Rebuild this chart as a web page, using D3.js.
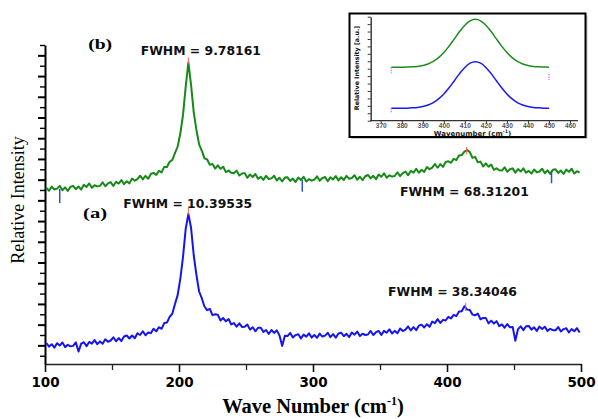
<!DOCTYPE html>
<html>
<head>
<meta charset="utf-8">
<script src="https://cdn.jsdelivr.net/npm/d3@7"></script>
<style>
  body { margin: 0; background: #fff; }
  svg { display: block; }
</style>
</head>
<body>
<svg id="chart" width="598" height="419"></svg>
<script>
// sampling grid of both spectra (cm-1)
const waveNumbers = d3.range(101, 500, 2);

// spectrum (a), blue
const intensityA = [
  1.23, 0.88, 1.11, 0.78, 1.21, 0.98, 1.28, 0.83, 1.05, 0.91,
  0.95, 1.29, 0.40, 1.17, 1.30, 0.93, 1.33, 1.16, 1.51, 1.12,
  1.38, 1.15, 1.59, 1.35, 1.47, 1.78, 1.39, 1.71, 1.41, 1.85,
  1.95, 1.66, 1.95, 1.68, 2.17, 2.00, 2.36, 1.97, 2.25, 2.18,
  2.60, 2.35, 2.75, 2.60, 3.15, 3.20, 3.75, 4.05, 5.00, 5.85,
  7.45, 9.55, 12.25, 13.70, 12.35, 9.70, 7.80, 6.20, 5.55, 4.75,
  4.40, 4.52, 3.92, 4.00, 3.95, 3.40, 3.64, 3.32, 3.54, 3.02,
  3.15, 2.80, 3.13, 2.78, 2.80, 3.01, 2.52, 2.75, 2.36, 2.70,
  2.70, 2.30, 2.48, 2.10, 2.48, 2.20, 2.45, 1.95, 0.95, 1.93,
  1.90, 2.20, 1.76, 1.99, 2.07, 1.67, 2.04, 1.84, 2.16, 1.75,
  2.00, 1.73, 2.13, 1.85, 1.94, 2.21, 1.79, 2.08, 1.74, 2.15,
  2.22, 1.88, 2.12, 1.80, 2.24, 2.03, 2.33, 1.90, 2.13, 2.00,
  2.05, 2.39, 2.00, 2.27, 2.39, 2.01, 2.40, 2.22, 2.54, 2.14,
  2.40, 2.17, 2.62, 2.38, 2.51, 2.82, 2.44, 2.76, 2.47, 2.90,
  3.00, 2.73, 3.04, 2.79, 3.30, 3.15, 3.53, 3.16, 3.46, 3.40,
  3.75, 3.60, 3.95, 3.83, 4.27, 4.30, 4.78, 4.45, 4.42, 3.97,
  3.90, 4.07, 3.52, 3.65, 3.63, 3.12, 3.39, 3.10, 3.34, 2.85,
  3.02, 2.70, 3.06, 2.74, 2.78, 1.45, 2.57, 2.83, 2.47, 2.85,
  2.88, 2.52, 2.74, 2.40, 2.81, 2.57, 2.80, 2.40, 2.60, 2.46,
  2.46, 2.76, 2.34, 2.57, 2.65, 2.24, 2.58, 2.36, 2.66, 2.24
];

// spectrum (b), green
const intensityB = [
  16.20, 15.93, 16.33, 16.05, 16.13, 16.40, 15.97, 16.25, 15.91, 16.30,
  16.40, 16.08, 16.34, 16.04, 16.50, 16.30, 16.63, 16.21, 16.46, 16.35,
  16.40, 16.75, 16.36, 16.63, 16.76, 16.39, 16.79, 16.62, 16.96, 16.57,
  16.85, 16.64, 17.11, 16.90, 17.04, 17.38, 17.02, 17.36, 17.09, 17.55,
  17.65, 17.45, 17.85, 17.70, 18.23, 18.22, 18.72, 18.90, 19.55, 20.20,
  21.45, 23.25, 25.95, 28.30, 26.15, 23.50, 21.80, 20.40, 19.80, 19.05,
  18.95, 18.43, 18.52, 18.07, 18.38, 18.05, 18.25, 17.72, 17.87, 17.66,
  17.62, 17.87, 17.40, 17.59, 17.63, 17.18, 17.50, 17.26, 17.54, 17.08,
  17.27, 16.98, 17.36, 17.06, 17.12, 17.37, 16.92, 17.18, 16.82, 17.20,
  17.22, 16.87, 17.10, 16.77, 17.20, 16.97, 17.27, 16.82, 17.04, 16.90,
  17.00, 17.32, 16.90, 17.15, 17.25, 16.85, 17.22, 17.02, 17.34, 16.92,
  17.23, 16.96, 17.36, 17.08, 17.16, 17.43, 17.00, 17.28, 16.94, 17.33,
  17.45, 17.12, 17.37, 17.04, 17.50, 17.28, 17.61, 17.18, 17.42, 17.30,
  17.35, 17.71, 17.34, 17.63, 17.78, 17.42, 17.84, 17.68, 18.05, 17.67,
  17.95, 17.75, 18.22, 18.01, 18.16, 18.51, 18.15, 18.50, 18.23, 18.70,
  18.77, 18.63, 19.00, 18.90, 19.34, 19.37, 19.70, 19.85, 19.67, 19.10,
  19.20, 18.67, 18.74, 18.27, 18.58, 18.25, 18.46, 17.94, 18.10, 17.91,
  17.88, 18.19, 17.76, 18.00, 18.09, 17.68, 18.03, 17.78, 18.09, 17.67,
  17.85, 17.58, 17.98, 17.70, 17.78, 18.05, 17.62, 17.90, 17.56, 17.95,
  18.00, 17.65, 17.88, 17.55, 17.98, 17.75, 18.05, 17.60, 17.82, 17.68
];

// blue spikes drawn over spectrum (b)
const spikeWave = [111, 292, 478];
const spikeTop = [16.1, 17.0, 17.8];
const spikeLow = [14.74, 15.84, 16.65];

// red peak markers
const peakWave = [207, 414.6, 207, 413.9];
const peakTop = [28.8, 20.15, 14.26, 5.09];
const peakBottom = [28.2, 19.45, 13.59, 4.32];

// FWHM annotations (left start wave, baseline intensity)
const fwhmText = ["FWHM = 9.78161", "FWHM = 68.31201", "FWHM = 10.39535", "FWHM = 38.34046"];
const fwhmWave = [171.4, 364.9, 158.4, 356];
const fwhmLevel = [29.03, 15.42, 14.26, 5.77];

const panelText = ["(b)", "(a)"];
const panelWave = [132.2, 128.4];
const panelLevel = [29.6, 13.3];

const xTicks = [100, 200, 300, 400, 500];
const xMinorTicks = [150, 250, 350, 450];
const yTicks = d3.range(0, 31);

// inset: fitted gaussians
const insetWave = [375, 377.5, 380, 382.5, 385, 387.5, 390, 392.5, 395, 397.5, 400, 402.5, 405, 407.5, 410, 412.5,
  415, 417.5, 420, 422.5, 425, 427.5, 430, 432.5, 435, 437.5, 440, 442.5, 445, 447.5, 450];
const insetGreen = [7.19, 7.19, 7.20, 7.22, 7.25, 7.31, 7.43, 7.64, 7.98, 8.49, 9.18, 10.04, 11.01, 12.00, 12.86, 13.44,
  13.65, 13.44, 12.86, 12.00, 11.01, 10.04, 9.18, 8.49, 7.98, 7.64, 7.43, 7.31, 7.25, 7.22, 7.20];
const insetBlue = [1.67, 1.67, 1.68, 1.69, 1.73, 1.79, 1.91, 2.11, 2.44, 2.93, 3.60, 4.43, 5.38, 6.34, 7.17, 7.74,
  7.94, 7.74, 7.17, 6.34, 5.38, 4.43, 3.60, 2.93, 2.44, 2.11, 1.91, 1.79, 1.73, 1.69, 1.68];
const insetXTicks = [370, 380, 390, 400, 410, 420, 430, 440, 450, 460];
const insetYTicks = d3.range(0, 15);
const insetMarkWave = [375, 375, 450];
const insetMarkTop = [7.19, 1.67, 6.28];
const insetMarkLow = [6.4, 1.0, 5.48];

const svg = d3.select("#chart");

// main scales
const x = d3.scaleLinear().domain([100, 500]).range([45, 581]);
const y = d3.scaleLinear().domain([-0.8, 30]).range([364, 45]);

// y axis (no labels)
const yMajor = svg.append("g").attr("transform", "translate(45,0)")
  .call(d3.axisLeft(y).tickValues(yTicks.filter(d => d % 2 === 1)).tickSize(7).tickSizeOuter(0).tickFormat(""));
const yMinor = svg.append("g").attr("transform", "translate(45,0)")
  .call(d3.axisLeft(y).tickValues(yTicks.filter(d => d % 2 === 0)).tickSize(5).tickSizeOuter(0).tickFormat(""));
yMajor.select(".domain").attr("stroke", "#000").attr("stroke-width", 2);
yMinor.select(".domain").remove();
yMajor.selectAll(".tick line").attr("stroke", "#000").attr("stroke-width", 2);
yMinor.selectAll(".tick line").attr("stroke", "#000").attr("stroke-width", 1.4);

// x axis
const xAxis = svg.append("g").attr("transform", "translate(0,364)")
  .call(d3.axisBottom(x).tickValues(xTicks).tickSize(8).tickSizeOuter(0).tickPadding(5));
svg.append("g").attr("transform", "translate(0,364)")
  .call(d3.axisBottom(x).tickValues(xMinorTicks).tickSize(6).tickSizeOuter(0).tickFormat(""))
  .call(g => g.select(".domain").remove())
  .selectAll(".tick line").attr("stroke", "#222").attr("stroke-width", 1.3);
xAxis.select(".domain").attr("stroke", "#222").attr("stroke-width", 1.6);
xAxis.selectAll(".tick line").attr("stroke", "#111").attr("stroke-width", 1.6);
xAxis.selectAll(".tick text")
  .attr("font-family", "DejaVu Sans").attr("font-weight", "bold")
  .attr("font-size", 13.5).attr("fill", "#000");

// spectra
const line = d3.line().x((d, i) => x(waveNumbers[i])).y(d => y(d));

svg.append("path").datum(intensityB)
  .attr("fill", "none").attr("stroke", "#168a16").attr("stroke-width", 2)
  .attr("stroke-linejoin", "round").attr("d", line);
svg.append("path").datum(intensityA)
  .attr("fill", "none").attr("stroke", "#1515f0").attr("stroke-width", 2)
  .attr("stroke-linejoin", "round").attr("d", line);

svg.append("g").selectAll("line").data(spikeWave).join("line")
  .attr("x1", d => x(d)).attr("x2", d => x(d))
  .attr("y1", (d, i) => y(spikeTop[i])).attr("y2", (d, i) => y(spikeLow[i]))
  .attr("stroke", "#2a4ee8").attr("stroke-width", 1.5);

svg.append("g").selectAll("line").data(peakWave).join("line")
  .attr("x1", d => x(d)).attr("x2", d => x(d))
  .attr("y1", (d, i) => y(peakTop[i])).attr("y2", (d, i) => y(peakBottom[i]))
  .attr("stroke", "#ff5a5a").attr("stroke-width", 1.2).attr("opacity", 0.85);

// annotations
svg.append("g").selectAll("text").data(fwhmText).join("text")
  .attr("x", (d, i) => x(fwhmWave[i])).attr("y", (d, i) => y(fwhmLevel[i]))
  .attr("font-family", "DejaVu Sans").attr("font-weight", "bold").attr("font-size", 12.4)
  .attr("fill", "#111").text(d => d);

svg.append("g").selectAll("text").data(panelText).join("text")
  .attr("x", (d, i) => x(panelWave[i])).attr("y", (d, i) => y(panelLevel[i]))
  .attr("font-family", "Liberation Serif").attr("font-weight", "bold").attr("font-size", 15)
  .attr("textLength", 24).attr("lengthAdjust", "spacingAndGlyphs")
  .attr("fill", "#000").text(d => d);

// axis titles
svg.append("text")
  .attr("transform", "translate(24,200) rotate(-90)")
  .attr("text-anchor", "middle")
  .attr("font-family", "Liberation Serif").attr("font-size", 18).attr("fill", "#000")
  .text("Relative Intensity");

const xTitle = svg.append("text")
  .attr("x", 313).attr("y", 413).attr("text-anchor", "middle")
  .attr("font-family", "Liberation Serif").attr("font-weight", "bold").attr("font-size", 20.5)
  .attr("fill", "#000");
xTitle.append("tspan").text("Wave Number (cm");
xTitle.append("tspan").attr("font-size", 12).attr("dy", -8).text("-1");
xTitle.append("tspan").attr("dy", 8).text(")");

// inset
const inset = svg.append("g");
inset.append("rect").attr("x", 351.5).attr("y", 15.5).attr("width", 236).attr("height", 123.5)
  .attr("fill", "#c8c8c8");
inset.append("rect").attr("x", 349.5).attr("y", 13.5).attr("width", 236).attr("height", 123.5)
  .attr("fill", "#fff").attr("stroke", "#000").attr("stroke-width", 2);

const ix = d3.scaleLinear().domain([365, 460]).range([370.2, 570]);
const iy = d3.scaleLinear().domain([0, 14]).range([120.7, 16.7]);

const ixAxis = inset.append("g").attr("transform", "translate(0,120.7)")
  .call(d3.axisBottom(ix).tickValues(insetXTicks).tickSize(3).tickSizeOuter(0).tickPadding(0));
ixAxis.select(".domain").attr("stroke", "#333").attr("stroke-width", 1.2)
  .attr("d", "M370.2,0H578");
ixAxis.selectAll(".tick line").attr("stroke", "#333");
ixAxis.selectAll(".tick text")
  .attr("font-family", "Liberation Sans").attr("font-weight", "bold")
  .attr("font-size", 6.6).attr("fill", "#555");

const iyAxis = inset.append("g").attr("transform", "translate(370.7,0)")
  .call(d3.axisLeft(iy).tickValues(insetYTicks).tickSize(3).tickSizeOuter(0).tickFormat(""));
iyAxis.select(".domain").attr("stroke", "#222").attr("stroke-width", 1.3);
iyAxis.selectAll(".tick line").attr("stroke", "#333");

const insetLine = d3.line().x((d, i) => ix(insetWave[i])).y(d => iy(d)).curve(d3.curveMonotoneX);
inset.append("path").datum(insetGreen)
  .attr("fill", "none").attr("stroke", "#1e8c1e").attr("stroke-width", 1.5).attr("d", insetLine);
inset.append("path").datum(insetBlue)
  .attr("fill", "none").attr("stroke", "#1a1aee").attr("stroke-width", 1.5).attr("d", insetLine);

inset.append("g").selectAll("line").data(insetMarkWave).join("line")
  .attr("x1", d => ix(d)).attr("x2", d => ix(d))
  .attr("y1", (d, i) => iy(insetMarkTop[i])).attr("y2", (d, i) => iy(insetMarkLow[i]))
  .attr("stroke", "#f060f0").attr("stroke-width", 1.2).attr("stroke-dasharray", "1.5,1");

inset.append("text")
  .attr("transform", "translate(359,68) rotate(-90)").attr("text-anchor", "middle")
  .attr("font-family", "DejaVu Sans").attr("font-weight", "bold").attr("font-size", 6.3)
  .attr("fill", "#111").text("Relative Intensity [a.u.]");

const ixTitle = inset.append("text")
  .attr("x", 472.5).attr("y", 135.5).attr("text-anchor", "middle")
  .attr("font-family", "DejaVu Sans").attr("font-weight", "bold").attr("font-size", 7)
  .attr("fill", "#222");
ixTitle.append("tspan").text("Wavenumber (cm");
ixTitle.append("tspan").attr("font-size", 4.8).attr("dy", -3).text("-1");
ixTitle.append("tspan").attr("dy", 3).text(")");
</script>
</body>
</html>
